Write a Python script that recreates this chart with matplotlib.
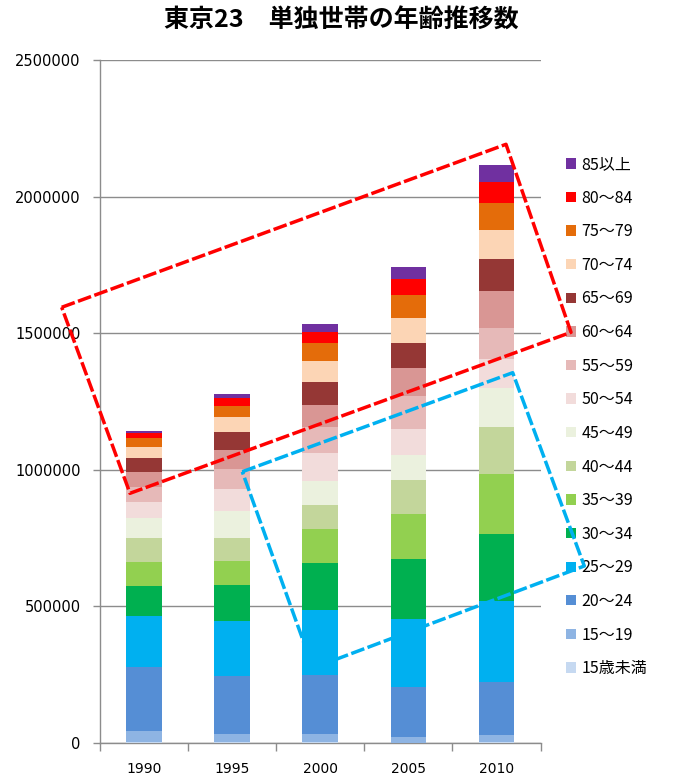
import matplotlib
matplotlib.use("Agg")
import matplotlib.pyplot as plt
from matplotlib.patches import Patch
from matplotlib.lines import Line2D
from matplotlib.ticker import FuncFormatter
import numpy as np

years = ["1990", "1995", "2000", "2005", "2010"]

# age groups, youngest first (stacking order)
ages = ["15歳未満", "15〜19", "20〜24", "25〜29", "30〜34", "35〜39", "40〜44", "45〜49",
        "50〜54", "55〜59", "60〜64", "65〜69", "70〜74", "75〜79", "80〜84", "85以上"]

colors = ["#C6D9F1", "#8EB4E3", "#558ED5", "#00B0F0", "#00B050", "#92D050", "#C3D69B", "#EBF1DE",
          "#F2DCDB", "#E6B9B8", "#D99694", "#953735", "#FCD5B5", "#E46C0A", "#FF0000", "#7030A0"]

# single-person households per age group, one list per year
hh_1990 = [3000, 42000, 232000, 189000, 110000, 88000, 87000, 74000,
           58000, 55000, 55000, 49000, 40000, 33000, 18000, 9000]
hh_1995 = [2000, 31000, 213000, 199000, 134000, 88000, 84000, 98000,
           81000, 72000, 70000, 67000, 55000, 41000, 27000, 15000]
hh_2000 = [2000, 31000, 215000, 239000, 173000, 123000, 88000, 88000,
           103000, 96000, 79000, 83000, 79000, 65000, 41000, 29000]
hh_2005 = [1500, 20500, 182000, 250000, 219000, 165000, 125000, 91000,
           95000, 122000, 102000, 91000, 93000, 83000, 57000, 44000]
hh_2010 = [2000, 27000, 193000, 298000, 245000, 218000, 172000, 143000,
           106000, 114000, 136000, 117000, 105000, 100000, 76000, 63000]

# dashed highlight frames, pixel corners on the 675x778 canvas
red_frame = [(61.7, 307.3), (506, 144.3), (571, 332.3), (130, 493.3)]
blue_frame = [(242.3, 471.7), (512.7, 372.7), (584.3, 566), (313, 668)]

W, H = 675, 778
fig = plt.figure(figsize=(W / 100, H / 100), dpi=100)
ax = fig.add_axes([100 / W, 1 - 743 / H, 440.5 / W, 683 / H])

data = np.array([hh_1990, hh_1995, hh_2000, hh_2005, hh_2010])
x = np.arange(len(years))
bottom = np.zeros(len(years))
for i, age in enumerate(ages):
    ax.bar(x, data[:, i], 0.405, bottom=bottom, color=colors[i], edgecolor="none",
           zorder=3, label=age)
    bottom += data[:, i]

ax.set_xlim(-0.5, len(years) - 0.5)
ax.set_ylim(0, 2500000)
ax.set_yticks(np.arange(0, 2500001, 500000))
ax.yaxis.set_major_formatter(FuncFormatter(lambda v, p: f"{int(v)}"))
ax.grid(axis="y", color="#8c8c8c", linewidth=1.0, zorder=0)

ax.set_xticks(x)
ax.set_xticklabels(years)
ax.set_xticks(np.arange(-0.5, len(years)), minor=True)
ax.tick_params(axis="x", which="major", length=0, pad=14, labelsize=10)
ax.tick_params(axis="x", which="minor", length=6, color="#8c8c8c", width=1)
ax.tick_params(axis="y", length=5, color="#8c8c8c", width=1, pad=9, labelsize=10.5)

for s in ["top", "right"]:
    ax.spines[s].set_visible(False)
for s in ["left", "bottom"]:
    ax.spines[s].set_color("#8c8c8c")
    ax.spines[s].set_linewidth(1.0)

jp = ["Noto Sans CJK JP", "DejaVu Sans"]

handles = [Patch(facecolor=c, edgecolor="none") for c in colors][::-1]
fig.legend(handles, ages[::-1], loc="upper left", bbox_to_anchor=(566 / W, 1 - 156 / H),
           frameon=False, handlelength=0.62, handleheight=0.62, handletextpad=0.35,
           labelspacing=1.04, borderpad=0, borderaxespad=0,
           prop={"family": jp, "size": 11.5})

fig.text(341 / W, 1 - 21 / H, "東京23　単独世帯の年齢推移数", ha="center", va="center",
         fontsize=18, fontweight="bold", family=jp)

for frame, col in [(red_frame, "#FF0000"), (blue_frame, "#00B0F0")]:
    px = [p[0] / W for p in frame] + [frame[0][0] / W]
    py = [1 - p[1] / H for p in frame] + [1 - frame[0][1] / H]
    fig.add_artist(Line2D(px, py, transform=fig.transFigure, color=col, linewidth=2.5,
                          dashes=(4, 1), zorder=10, solid_joinstyle="miter"))

fig.savefig("out.png", dpi=100)
